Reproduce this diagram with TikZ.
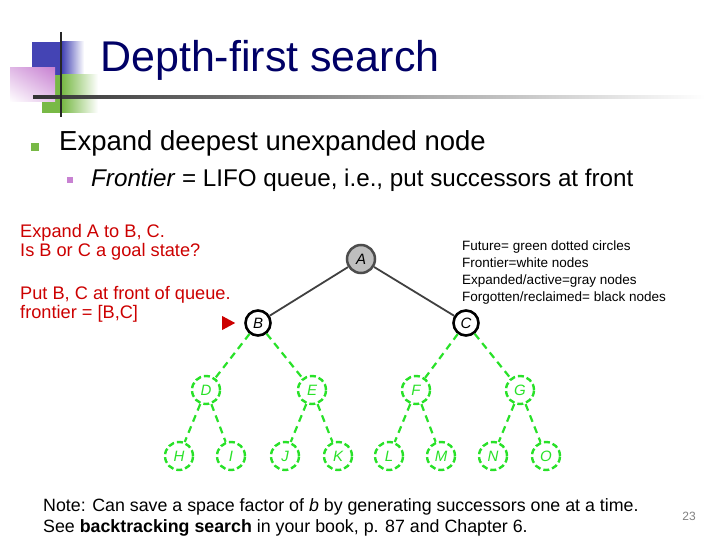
\documentclass[tikz,border=0pt]{standalone}
\usepackage{fontspec}
\setmainfont{Liberation Sans}
\usetikzlibrary{positioning, arrows, shadings}
\definecolor{titlu}{RGB}{0,0,102}
\definecolor{rosu}{RGB}{204,0,0}
\definecolor{verde}{RGB}{40,225,40}
\definecolor{gri}{RGB}{190,190,190}
\definecolor{albastru}{RGB}{68,68,180}
\definecolor{roz}{RGB}{200,130,210}
\definecolor{verdeinchis}{RGB}{120,185,70}

\begin{document}
\begin{tikzpicture}[x=1pt, y=-1pt]
        \useasboundingbox (0,0) rectangle (720,540);

        % Desenează decorul titlului.
        \fill[albastru] (32,42) rectangle (62,75);
        \shade[left color=albastru, right color=white] (62,42) rectangle (84,75);
        \fill[verdeinchis] (42,75) rectangle (62,113);
        \shade[left color=verdeinchis, right color=white] (62,75) rectangle (98,113);
        \shade[upper right=roz, upper left=roz!55, lower right=roz!45, lower left=white] (10,68) rectangle (55,102);
        \shade[left color=black!80, right color=white] (33,96) rectangle (705,99);
        \draw[black!85, line width=1.6pt] (61,32) -- (61,117);

        % Scrie textele.
        \tikzstyle{scris} = [inner sep=0pt, anchor=base west]
        \node[scris, titlu, font=\fontsize{43}{43}\selectfont] (titlu) at (100,72) {Depth-first search};
        \node[fill=verdeinchis, minimum size=8pt, inner sep=0pt] (bulina1) at (35,147) {};
        \node[scris, font=\fontsize{27.5}{27.5}\selectfont] (punct1) at (59,151) {Expand deepest unexpanded node};
        \node[fill=roz, minimum size=6pt, inner sep=0pt] (bulina2) at (70,180) {};
        \node[scris, font=\fontsize{24.2}{24.2}\selectfont] (punct2) at (91,187) {\textit{Frontier} = LIFO queue, i.e., put successors at front};

        \node[scris, rosu, font=\fontsize{18.2}{19}\selectfont, align=left, anchor=north west] (pas) at (20,224)
            {Expand A to B, C.\\Is B or C a goal state?\\[24pt]Put B, C at front of queue.\\frontier = [B,C]};
        \node[scris, font=\fontsize{13.5}{17}\selectfont, align=left, anchor=north west] (legenda) at (462,241)
            {Future= green dotted circles\\Frontier=white nodes\\Expanded/active=gray nodes\\Forgotten/reclaimed= black nodes};
        \node[scris, font=\fontsize{17.8}{21}\selectfont, align=left, anchor=north west] (nota) at (43,498)
            {Note: Can save a space factor of \textit{b} by generating successors one at a time.\\See \textbf{backtracking search} in your book, p. 87 and Chapter 6.};
        \node[gray, font=\fontsize{12}{12}\selectfont] (pagina) at (689,516) {23};

        % Desenează nodurile.
        \tikzstyle{nod} = [circle, inner sep=0pt, font=\fontsize{15}{15}\selectfont\itshape]
        \tikzstyle{activ} = [nod, minimum size=28pt, draw=black!70, fill=gri, line width=2.5pt]
        \tikzstyle{margine} = [nod, minimum size=25pt, draw=black, fill=white, line width=2.6pt]
        \tikzstyle{viitor} = [nod, minimum size=28pt, draw=verde, text=verde, dash pattern=on 6pt off 3pt, line width=2.4pt]
        \node[activ] (A) at (361,259) {A};
        \node[margine] (B) at (258,323) {B};
        \node[margine] (C) at (466,323) {C};
        \node[viitor] (D) at (206,390) {D};
        \node[viitor] (E) at (312,390) {E};
        \node[viitor] (F) at (416,390) {F};
        \node[viitor] (G) at (520,390) {G};
        \node[viitor] (H) at (179,456) {H};
        \node[viitor] (I) at (231,456) {I};
        \node[viitor] (J) at (285,456) {J};
        \node[viitor] (K) at (338,456) {K};
        \node[viitor] (L) at (389,456) {L};
        \node[viitor] (M) at (441,456) {M};
        \node[viitor] (N) at (493,456) {N};
        \node[viitor] (O) at (546,456) {O};

        % Desenează muchiile.
        \path[draw=black!75, line width=1.8pt]
            (A) edge (B)
            (A) edge (C);
        \path[draw=verde, line width=2.2pt, dash pattern=on 7pt off 5pt]
            (B) edge (D) (B) edge (E)
            (C) edge (F) (C) edge (G)
            (D) edge (H) (D) edge (I)
            (E) edge (J) (E) edge (K)
            (F) edge (L) (F) edge (M)
            (G) edge (N) (G) edge (O);

        % Indicatorul nodului curent.
        \coordinate[left=9pt of B] (varf);
        \fill[rosu] (varf) -- ++(-13,-7) -- ++(0,14) -- cycle;
    \end{tikzpicture}
\end{document}
